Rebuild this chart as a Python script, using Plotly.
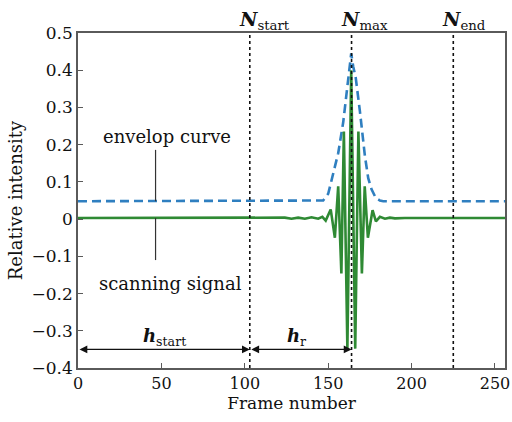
import plotly.graph_objects as go

# Scanning signal (frame, relative intensity) read at its turning points
signal_frames = [0, 108, 112, 116, 120, 124, 128, 132, 136, 140, 144, 146.5, 148.5, 151.5, 154,
                 156, 157.9, 159.4, 161.5, 163.8, 166.2, 168.1, 170.2, 171.9, 173.8,
                 176.6, 178.6, 181, 184, 187, 190, 196, 256]
signal_values = [0.003, 0.003, 0.002, 0.004, 0.002, 0.004, 0.001, 0.004, 0.001, 0.005, 0.001,
                 0.006, -0.004, 0.026, -0.05,
                 0.088, -0.146, 0.235, -0.348, 0.40, -0.348, 0.235, -0.146, 0.088, -0.05,
                 0.024, -0.006, 0.006, 0.001, 0.004, 0.002, 0.003, 0.003]

# Envelope of the scanning signal
envelope_frames = [0, 145, 147, 150, 153, 156, 159, 161, 162.5, 163.8, 165, 166.5, 169, 172,
                   174, 176, 178.5, 181, 183, 256]
envelope_values = [0.048, 0.048, 0.05, 0.068, 0.12, 0.177, 0.26, 0.335, 0.40, 0.445, 0.41, 0.38,
                   0.29, 0.17, 0.11, 0.08, 0.057, 0.05, 0.048, 0.048]

# Marker frames
n_start, n_max, n_end = 103, 164, 225
arrow_level = -0.35

x_ticks = [0, 50, 100, 150, 200, 250]
y_ticks = [-0.4, -0.3, -0.2, -0.1, 0, 0.1, 0.2, 0.3, 0.4, 0.5]

SERIF = "DejaVu Serif, Liberation Serif, serif"
AXIS_GREY = "#5a5a5a"
INK = "#111111"

fig = go.Figure()

fig.add_trace(go.Scatter(
    x=envelope_frames, y=envelope_values, mode="lines",
    line=dict(color="#2f7fc0", width=2.6, dash="9px,5px"),
    hoverinfo="skip", showlegend=False))

fig.add_trace(go.Scatter(
    x=signal_frames, y=signal_values, mode="lines",
    line=dict(color="#2f8a34", width=2.6),
    hoverinfo="skip", showlegend=False))

# Vertical dotted markers
for xv in (n_start, n_max, n_end):
    fig.add_shape(type="line", x0=xv, x1=xv, y0=-0.4, y1=0.5, xref="x", yref="y",
                  line=dict(color=INK, width=1.6, dash="dot"))

# Marker names above the frame
for xv, sub in ((n_start, "start"), (n_max, "max"), (n_end, "end")):
    fig.add_annotation(x=xv, y=1.0, xref="x", yref="paper", xanchor="left", yanchor="bottom",
                       xshift=-13, yshift=-2, showarrow=False,
                       text=f"<i><b>N</b></i><sub>{sub}</sub>",
                       font=dict(family=SERIF, size=19, color=INK))

# Pointer lines for the two curve labels
fig.add_shape(type="line", x0=46.5, x1=46.5, y0=0.186, y1=0.048, xref="x", yref="y",
              line=dict(color="#333333", width=1.2))
fig.add_shape(type="line", x0=46.5, x1=46.5, y0=0.003, y1=-0.11, xref="x", yref="y",
              line=dict(color="#333333", width=1.2))
fig.add_annotation(x=53.5, y=0.222, xref="x", yref="y", showarrow=False,
                   text="envelop curve", font=dict(family=SERIF, size=18, color=INK))
fig.add_annotation(x=55.5, y=-0.172, xref="x", yref="y", showarrow=False,
                   text="scanning signal", font=dict(family=SERIF, size=18, color=INK))

# Double-headed distance arrows
for x0, x1 in ((0, n_start), (n_start, n_max)):
    fig.add_annotation(x=x1, y=arrow_level, ax=x0, ay=arrow_level,
                       xref="x", yref="y", axref="x", ayref="y",
                       text="", showarrow=True, arrowside="end+start",
                       arrowhead=2, arrowsize=1.3, arrowwidth=1.2, arrowcolor=INK,
                       standoff=0, startstandoff=0)

fig.add_annotation(x=52, y=-0.318, xref="x", yref="y", showarrow=False,
                   text="<i><b>h</b></i><sub>start</sub>",
                   font=dict(family=SERIF, size=18, color=INK))
fig.add_annotation(x=131, y=-0.318, xref="x", yref="y", showarrow=False,
                   text="<i><b>h</b></i><sub>r</sub>",
                   font=dict(family=SERIF, size=18, color=INK))

fig.update_layout(
    width=512, height=422,
    margin=dict(l=78, r=7, t=33, b=54),
    paper_bgcolor="white", plot_bgcolor="white",
    font=dict(family=SERIF, size=16, color=INK),
)
fig.update_xaxes(
    range=[0, 256], tickvals=x_ticks, ticks="inside", ticklen=5, tickcolor=AXIS_GREY,
    showline=True, linecolor=AXIS_GREY, linewidth=1.5, mirror=True, showgrid=False,
    zeroline=False, title=dict(text="Frame number", font=dict(family=SERIF, size=17), standoff=3),
    tickfont=dict(family=SERIF, size=16, color=INK), ticklabeloverflow="allow",
    automargin=False,
)
fig.update_yaxes(
    range=[-0.4, 0.5], tickvals=y_ticks, ticks="inside", ticklen=5, tickcolor=AXIS_GREY,
    showline=True, linecolor=AXIS_GREY, linewidth=1.5, mirror=True, showgrid=False,
    zeroline=False, title=dict(text="Relative intensity", font=dict(family=SERIF, size=18), standoff=4),
    tickfont=dict(family=SERIF, size=17, color=INK), ticklabeloverflow="allow",
    automargin=False,
)

fig.write_html("out.html")
